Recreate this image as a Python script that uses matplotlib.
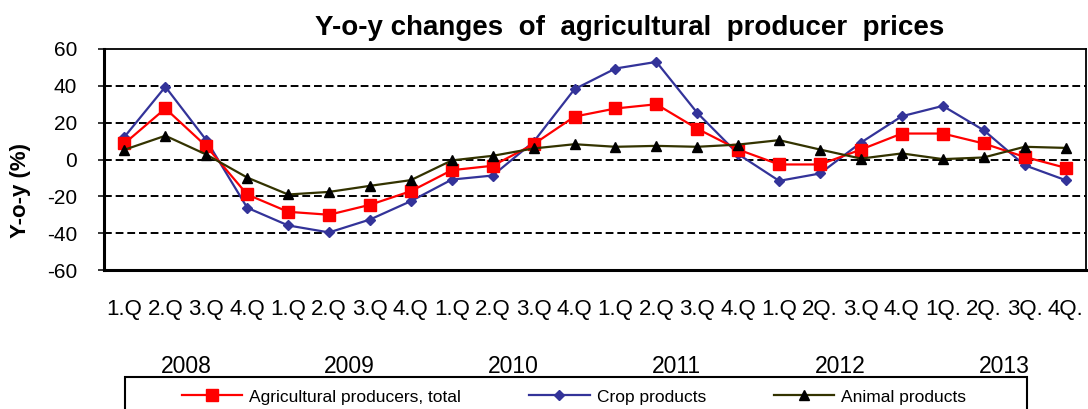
import numpy as np
import matplotlib
matplotlib.use('Agg')
import matplotlib.pyplot as plt
from matplotlib.patches import Rectangle

plt.rcParams['font.family'] = ['Liberation Sans', 'DejaVu Sans']
plt.rcParams['axes.unicode_minus'] = False

# quarterly labels as printed on the chart
quarter_labels = (["1.Q", "2.Q", "3.Q", "4.Q"] * 4
                  + ["1.Q", "2Q.", "3.Q", "4.Q"]
                  + ["1Q.", "2Q.", "3Q.", "4Q."])
years = ["2008", "2009", "2010", "2011", "2012", "2013"]

# y-o-y change, %
total = [8.7, 27.7, 7.2, -19.0, -28.4, -30.0, -24.6, -17.2, -5.8, -3.4, 8.3, 23.3,
         27.7, 30.0, 16.7, 5.4, -2.7, -2.7, 5.4, 14.1, 14.1, 8.7, 1.4, -4.5]
crop = [12.3, 39.5, 10.5, -26.2, -35.8, -39.6, -32.6, -22.6, -10.9, -8.7, 9.6, 38.2,
        49.4, 53.0, 25.3, 2.9, -11.6, -7.6, 9.2, 23.5, 29.1, 15.9, -3.1, -11.2]
animal = [5.3, 12.9, 2.7, -9.8, -19.0, -17.6, -14.3, -11.2, -0.5, 2.0, 6.0, 8.3,
          6.9, 7.4, 6.9, 8.1, 10.5, 5.4, 0.5, 3.3, 0.2, 1.1, 6.9, 6.3]

W, H = 1088, 409
fig = plt.figure(figsize=(W / 100, H / 100), dpi=100)
ax = fig.add_axes([104 / W, 1 - 270 / H, (1086 - 104) / W, (270 - 49) / H])

x = np.arange(len(quarter_labels))
l1, = ax.plot(x, total, color='#ff0000', lw=1.6, marker='s', ms=8,
              mfc='#ff0000', mec='#ff0000', zorder=4)
l2, = ax.plot(x, crop, color='#333399', lw=1.6, marker='D', ms=5.4,
              mfc='#333399', mec='#333399', zorder=3)
l3, = ax.plot(x, animal, color='#333300', lw=1.6, marker='^', ms=7.8,
              mfc='black', mec='black', zorder=5)

ax.set_xlim(-0.5, len(x) - 0.5)
ax.set_ylim(-60, 60)
ax.set_yticks(range(-60, 61, 20))
ax.set_xticks(x)
ax.set_xticklabels(quarter_labels, fontsize=16)
ax.tick_params(axis='x', length=0, pad=21)
ax.tick_params(axis='y', length=4.3, width=1.1, direction='out', pad=15, labelsize=15)

for yv in [-40, -20, 0, 20, 40]:
    ax.axhline(yv, color='black', lw=1.4, ls=(0, (4, 2)), zorder=1)

for side in ['left', 'bottom']:
    ax.spines[side].set_linewidth(2.2)
for side in ['top', 'right']:
    ax.spines[side].set_linewidth(1.3)

# year labels under each group of quarters
for k, yr in enumerate(years):
    ax.text(4 * k + 1.5, (270 - 373) / 221, yr, transform=ax.get_xaxis_transform(),
            ha='center', va='baseline', fontsize=16.5)

fig.text(630 / W, 1 - 28 / H, 'Y-o-y changes  of  agricultural  producer  prices',
         ha='center', va='center', fontsize=20, fontweight='bold')
fig.text(21 / W, 1 - 190 / H, 'Y-o-y (%)', rotation=90, ha='center', va='center',
         fontsize=16, fontweight='bold')

fig.legend([l1, l2, l3], ['Agricultural producers, total', 'Crop products', 'Animal products'],
           loc='center', bbox_to_anchor=(574 / W, 1 - 397 / H), ncol=3, frameon=False,
           fontsize=12.5, handlelength=3.5, handletextpad=0.4, columnspacing=3.9)
fig.patches.append(Rectangle((125 / W, -0.02), 902 / W, (409 - 377) / H + 0.02,
                             transform=fig.transFigure, fill=False, ec='black', lw=1.5))

fig.savefig('out.png', dpi=100)
